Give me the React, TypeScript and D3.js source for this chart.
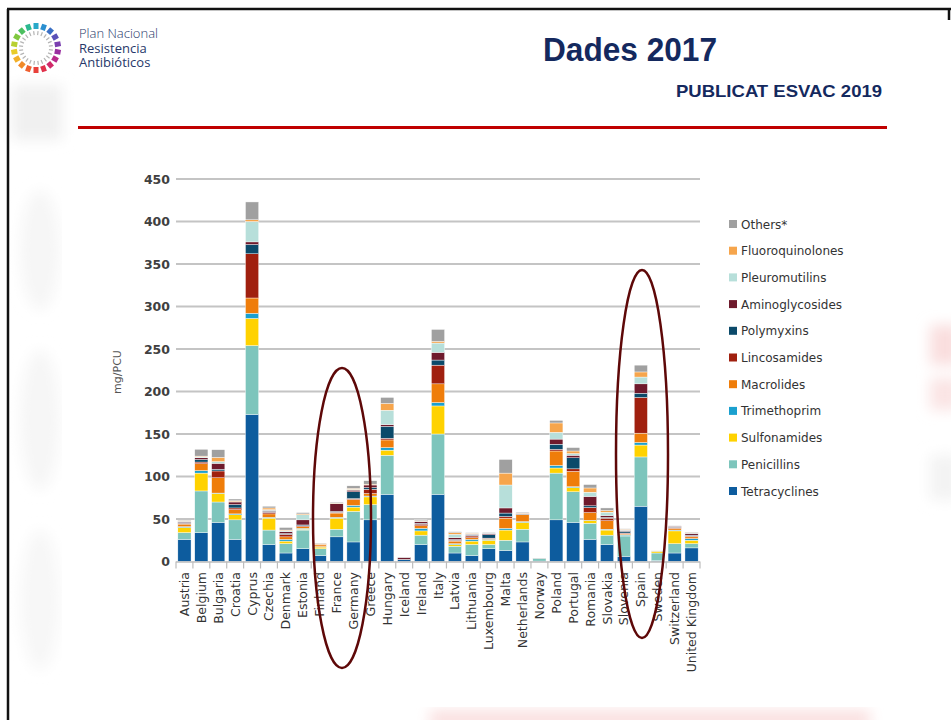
import React from "react";
import * as d3 from "d3";

const countries = [
  "Austria", "Belgium", "Bulgaria", "Croatia", "Cyprus", "Czechia", "Denmark", "Estonia",
  "Finland", "France", "Germany", "Greece", "Hungary", "Iceland", "Ireland", "Italy",
  "Latvia", "Lithuania", "Luxembourg", "Malta", "Netherlands", "Norway", "Poland",
  "Portugal", "Romania", "Slovakia", "Slovenia", "Spain", "Sweden", "Switzerland",
  "United Kingdom",
];

// stacked bottom -> top
const tetracyclines = [26, 34, 46, 26, 173, 20, 10, 15, 7, 29, 23, 49, 79, 2, 20, 79, 10, 7, 15, 13, 23, 0.5, 49, 46, 26, 20, 6, 65, 1, 10, 16];
const penicillins = [8, 49, 24, 23, 81, 17, 11, 22, 8, 9, 36, 18, 46, 0.5, 11, 71, 8, 13, 5, 12, 15, 3, 55, 36, 19, 11, 24, 58, 9, 11, 5];
const sulfonamides = [6, 21, 10, 6, 32, 14, 3, 1, 2, 13, 5, 9, 6, 0, 5, 33, 2, 4, 5, 12, 8, 0, 6, 5, 3, 6, 0.5, 14, 2, 15, 4];
const trimethoprim = [1, 3, 0.5, 1, 6, 1, 2, 1, 0.5, 1, 2, 1, 3, 0, 3, 4, 1, 2, 1, 2, 1, 0, 3, 1, 0.5, 1, 1, 3, 0, 1, 2];
const macrolides = [3, 8, 18, 5, 18, 4, 3, 2, 2, 5, 7, 3, 9, 0, 3, 22, 3, 2, 1, 12, 8, 0, 17, 18, 9, 10, 1, 11, 0, 2, 2];
const lincosamides = [1, 2, 8, 2, 52, 2, 3, 1, 0, 1, 1, 5, 2, 0, 2, 22, 1, 2, 0.5, 2, 0.5, 0, 2, 3, 6, 3, 1, 42, 0, 1, 1];
const polymyxins = [1, 3, 2, 4, 11, 1, 1, 1, 0, 1, 8, 2, 14, 0, 1, 6, 1, 1, 4, 4, 0.5, 0, 6, 13, 2, 1, 2, 5, 0, 0.5, 1];
const aminoglycosides = [1, 2, 7, 3, 3, 1, 2, 6, 0.5, 9, 2, 3, 2, 2, 2, 9, 2, 1, 1, 6, 0.5, 0, 6, 3, 11, 2, 1, 11, 0, 1, 2];
const pleuromutilins = [0.5, 1, 2, 0.5, 24, 1, 1, 6, 0, 0.5, 1, 0, 17, 0, 0.5, 11, 4, 1, 0.5, 27, 0, 0, 8, 2, 5, 4, 0.5, 8, 0, 0, 0.5];
const fluoroquinolones = [0.5, 1, 5, 1, 2, 2, 1, 1, 1, 0.5, 1, 1, 8, 0, 0.5, 2, 2, 0.5, 0, 14, 0.5, 0, 11, 3, 5, 2, 1, 6, 0, 0, 0.5];
const others = [0.5, 8, 9, 2, 21, 2, 3, 1.5, 0.5, 1, 3, 4, 7, 0.5, 1, 14, 1, 0.5, 1, 16, 1, 0.5, 3, 4, 4, 3, 0.5, 8, 0.5, 0.5, 0.5];

const classNames = [
  "Tetracyclines", "Penicillins", "Sulfonamides", "Trimethoprim", "Macrolides",
  "Lincosamides", "Polymyxins", "Aminoglycosides", "Pleuromutilins", "Fluoroquinolones", "Others*",
];
const classValues = [
  tetracyclines, penicillins, sulfonamides, trimethoprim, macrolides,
  lincosamides, polymyxins, aminoglycosides, pleuromutilins, fluoroquinolones, others,
];
const classColors = [
  "#0d5c9e", "#7dc5bc", "#ffd200", "#1aa0cf", "#ef7d0a",
  "#a0200f", "#0b4a6a", "#6e1a2c", "#b7dfda", "#f6a54c", "#a0a0a0",
];

const yTicks = [0, 50, 100, 150, 200, 250, 300, 350, 400, 450];
const logoColors = [
  "#29a9c9", "#2a8fd0", "#3a6fc4", "#5a52b8", "#7a3fb0", "#9a2fa0", "#b82a8a",
  "#d02a6a", "#e0304a", "#e8403a", "#ee6030", "#f08a2a", "#f2b02a", "#e8cc2a",
  "#b8d030", "#80c840", "#4cbf60", "#2cb890",
];

const App: React.FC = () => {
  const W = 951;
  const H = 720;

  const x = d3.scaleBand<string>().domain(countries).range([176, 700]).paddingInner(0.22).paddingOuter(0.11);
  const y = d3.scaleLinear().domain([0, 450]).range([561.5, 179]);

  const table = countries.map((c, i) => {
    const row: Record<string, number | string> = { country: c };
    classNames.forEach((k, j) => (row[k] = classValues[j][i]));
    return row;
  });
  const series = d3.stack<Record<string, number | string>>().keys(classNames)(table as any);

  const step = x.step();
  const font = "'DejaVu Sans', Verdana, sans-serif";

  return (
    <svg width={W} height={H} style={{ position: "absolute", left: 0, top: 0, background: "#fff" }}>
      <defs>
        <filter id="blur" x="-50%" y="-50%" width="200%" height="200%">
          <feGaussianBlur stdDeviation="7" />
        </filter>
      </defs>

      {/* faint background watermark */}
      <g filter="url(#blur)">
        <rect x={12} y={85} width={50} height={55} fill="#f0f0f0" />
        <ellipse cx={40} cy={250} rx={20} ry={60} fill="#f6f6f6" />
        <ellipse cx={40} cy={420} rx={20} ry={70} fill="#f6f6f6" />
        <ellipse cx={40} cy={600} rx={20} ry={70} fill="#f7f7f7" />
        <rect x={930} y={325} width={30} height={40} fill="#f9dede" />
        <rect x={930} y={378} width={30} height={32} fill="#fae4e4" />
        <rect x={930} y={455} width={30} height={45} fill="#f3f3f3" />
        <rect x={430} y={710} width={440} height={20} fill="#fae0e0" />
      </g>
      <rect x={62} y={155} width={845} height={552} fill="#fff" />

      {/* slide border */}
      <line x1={7} y1={9} x2={951} y2={9} stroke="#111" strokeWidth={2.5} />
      <line x1={8} y1={9} x2={8} y2={720} stroke="#111" strokeWidth={2.5} />
      <line x1={949} y1={9} x2={949} y2={20} stroke="#111" strokeWidth={2.5} />

      {/* logo */}
      <g transform="translate(36,48)">
        {logoColors.map((c, i) => {
          const a = (i / logoColors.length) * 360;
          return (
            <rect key={i} x={-2.5} y={-25} width={5} height={6} fill={c} transform={`rotate(${a})`} />
          );
        })}
        {d3.range(24).map((i) => (
          <rect key={"g" + i} x={-0.6} y={-17} width={1.2} height={4} fill="#b5b5b5" transform={`rotate(${i * 15 + 7})`} />
        ))}
      </g>
      <g fontFamily="'Open Sans', sans-serif" fill="#27386a" fontSize={13}>
        <text x={79} y={38} fontWeight={300}>Plan Nacional</text>
        <text x={79} y={53}>Resistencia</text>
        <text x={79} y={67}>Antibióticos</text>
      </g>

      {/* titles */}
      <text x={630} y={61} textAnchor="middle" fontFamily="'Liberation Sans', Arial, sans-serif" fontWeight="bold"
        fontSize={33} fill="#14295e" textLength={174} lengthAdjust="spacingAndGlyphs">Dades 2017</text>
      <text x={882} y={97} textAnchor="end" fontFamily="'Liberation Sans', Arial, sans-serif" fontWeight="bold"
        fontSize={17} fill="#14295e" textLength={206} lengthAdjust="spacingAndGlyphs">PUBLICAT ESVAC 2019</text>
      <line x1={78} y1={127.5} x2={887} y2={127.5} stroke="#c00000" strokeWidth={3} />

      {/* grid */}
      {yTicks.map((t) => (
        <g key={t}>
          {t > 0 && <line x1={176} x2={700} y1={y(t)} y2={y(t)} stroke="#c4c4c4" strokeWidth={2} />}
          <text x={170} y={y(t) + 4.5} textAnchor="end" fontFamily={font} fontWeight="bold" fontSize={12.5} fill="#404040">{t}</text>
        </g>
      ))}
      <text transform="translate(121,372) rotate(-90)" textAnchor="middle" fontFamily={font} fontSize={11} fill="#555">mg/PCU</text>

      {/* bars */}
      {series.map((s, j) => (
        <g key={classNames[j]} fill={classColors[j]}>
          {s.map((d, i) =>
            d[1] - d[0] > 0 ? (
              <rect key={i} x={x(countries[i])} width={x.bandwidth()} y={y(d[1])} height={y(d[0]) - y(d[1])}
                stroke="#fff" strokeWidth={0.4} />
            ) : null
          )}
        </g>
      ))}

      {/* x axis */}
      <line x1={176} x2={700} y1={y(0) + 0.5} y2={y(0) + 0.5} stroke="#bdbdbd" strokeWidth={1.5} />
      {d3.range(countries.length + 1).map((i) => {
        const xx = 176 + i * step;
        return <line key={i} x1={xx} x2={xx} y1={y(0)} y2={y(0) + 7} stroke="#bdbdbd" strokeWidth={1.2} />;
      })}
      {countries.map((c) => (
        <text key={c} transform={`translate(${(x(c) ?? 0) + x.bandwidth() / 2 + 4.5},572) rotate(-90)`}
          textAnchor="end" fontFamily={font} fontSize={12.5} fill="#333">{c}</text>
      ))}

      {/* legend, top -> bottom */}
      {classNames.slice().reverse().map((n, k) => {
        const j = classNames.length - 1 - k;
        const ly = 224 + k * 26.7;
        return (
          <g key={n}>
            <rect x={729} y={ly - 4} width={8} height={8} fill={classColors[j]} />
            <text x={741} y={ly + 4.5} fontFamily={font} fontSize={12} fill="#333">{n}</text>
          </g>
        );
      })}

      {/* highlight ellipses */}
      <ellipse cx={342} cy={518} rx={29} ry={150} fill="none" stroke="#5e0808" strokeWidth={2.5} />
      <ellipse cx={642} cy={454} rx={26} ry={184} fill="none" stroke="#5e0808" strokeWidth={2.5} />
    </svg>
  );
};

export default App;
